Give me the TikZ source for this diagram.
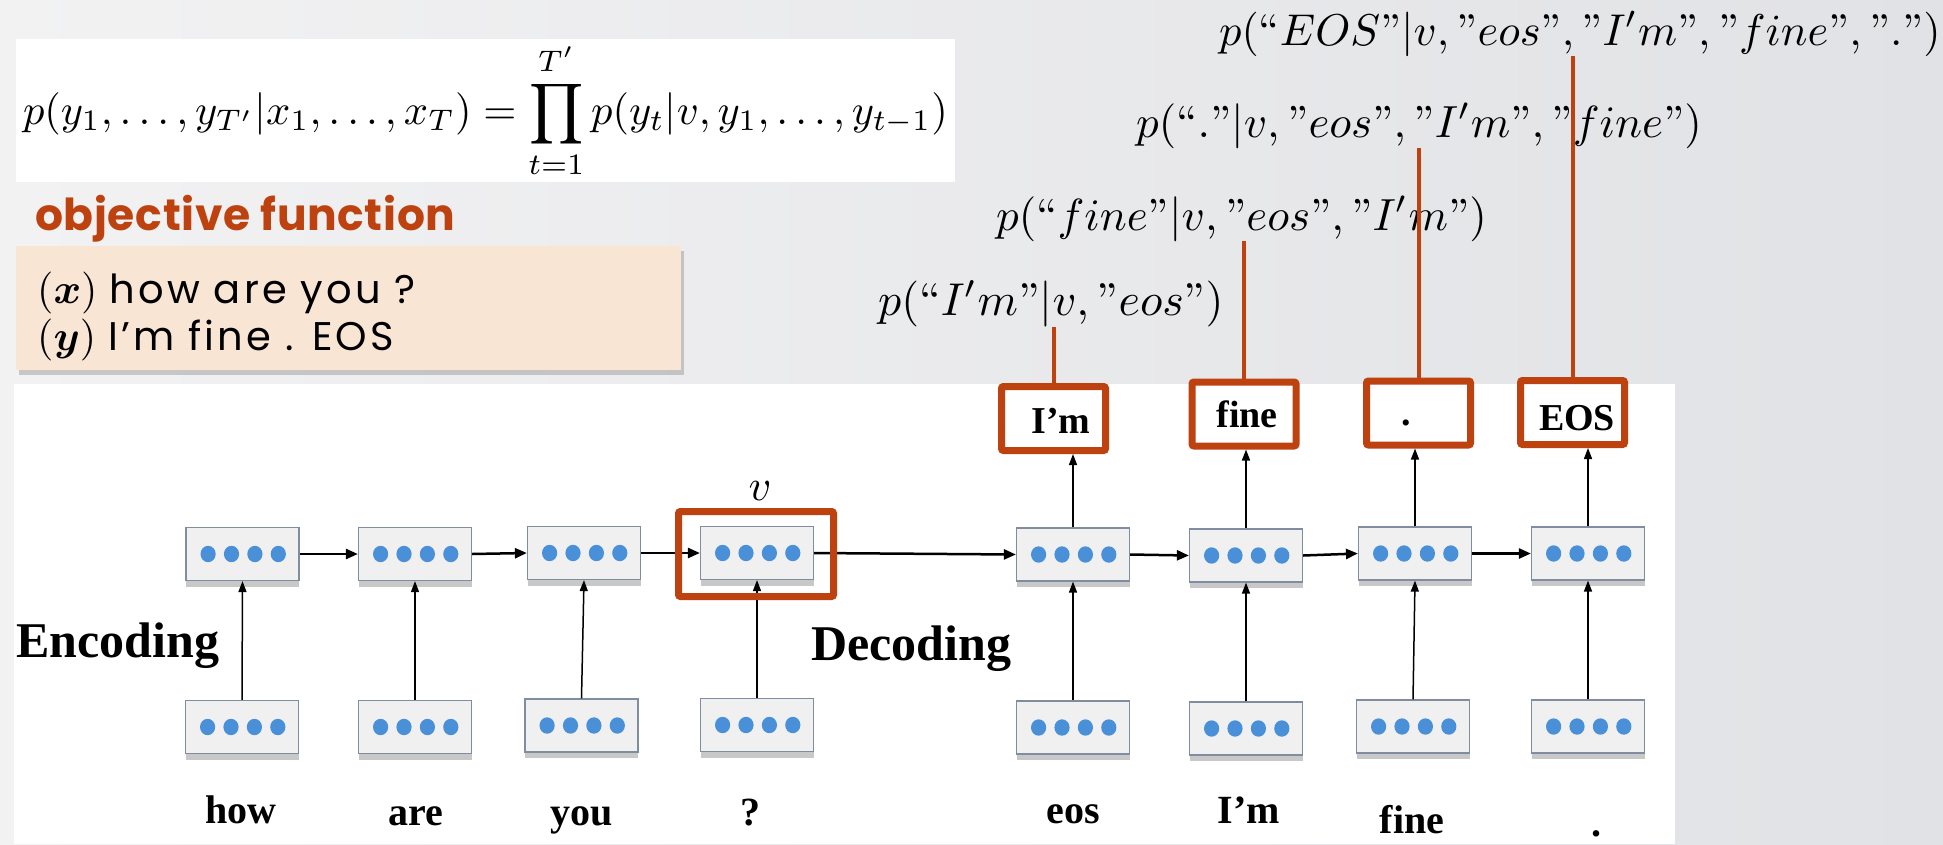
\documentclass[tikz,border=0pt]{standalone}
\usepackage{amsmath}
\usepackage{bm}
\usepackage{fontspec}
\newfontfamily\gothic{Poppins}[LetterSpace=1.5]
\newfontfamily\gothicw{Poppins}[LetterSpace=8]
\newfontfamily\serifb{Liberation Serif}
\usetikzlibrary{arrows.meta,shadows}
\definecolor{redb}{RGB}{190,66,16}
\definecolor{peach}{RGB}{249,229,211}
\definecolor{dotb}{RGB}{74,144,217}
\definecolor{boxf}{RGB}{240,240,240}
\definecolor{boxd}{RGB}{128,140,160}
\definecolor{bgL}{RGB}{242,242,243}
\definecolor{bgR}{RGB}{225,226,229}
\newcommand{\qa}[1]{\text{“}#1\text{”}}
\newcommand{\qb}[1]{\text{”}#1\text{”}}
\begin{document}
\begin{tikzpicture}[x=1pt,y=-1pt,
  cell/.style={draw=boxd,line width=1.2pt,fill=boxf,minimum width=113pt,minimum height=53pt,inner sep=0pt,
    drop shadow={shadow xshift=0pt,shadow yshift=-6pt,opacity=0.3,fill=black!70},
    path picture={\foreach \d in {-34.4,-11,12.4,35.8}{\fill[dotb] (path picture bounding box.center) ++(\d pt,0pt) ellipse [x radius=7.6pt,y radius=8.2pt];}}},
  obox/.style={draw=redb,line width=7pt,fill=white,minimum width=104pt,minimum height=64pt,inner sep=0pt,rounded corners=2pt},
  vbox/.style={draw=redb,line width=7pt,minimum width=155pt,minimum height=85pt,inner sep=0pt,rounded corners=2pt},
  btext/.style={anchor=base,inner sep=0pt,font=\serifb\bfseries\fontsize{38}{44}\selectfont},
  wtext/.style={anchor=base,inner sep=0pt,font=\serifb\bfseries\fontsize{40}{46}\selectfont},
  ptext/.style={anchor=base west,inner sep=0pt},
  extext/.style={anchor=base west,inner sep=0pt,font=\gothicw\fontsize{40}{46}\selectfont},
  varr/.style={-{Triangle[length=11pt,width=8pt]},line width=1.5pt},
  harr/.style={-{Triangle[length=12pt,width=10pt]},line width=2.5pt},
  rline/.style={draw=redb,line width=4pt}
]
\useasboundingbox (0,0) rectangle (1943,844);
\shade[left color=bgL,right color=bgR] (0,0) rectangle (1943,844);
\fill[white] (14,384) rectangle (1675,844);

% formula
\node[fill=white,minimum width=939pt,minimum height=143pt,inner sep=0pt] (formula) at (485.5,110.5)
  {\scalebox{4.25}{$\displaystyle p(y_1,\ldots,y_{T'}|x_1,\ldots,x_T)=\prod_{t=1}^{T'}p(y_t|v,y_1,\ldots,y_{t-1})$}};

% objective
\node[anchor=base west,inner sep=0pt,text=redb,font=\gothic\bfseries\fontsize{44}{48}\selectfont] (obj) at (35,230) {objective function};
\node[fill=peach,minimum width=665pt,minimum height=124pt,inner sep=0pt,
  drop shadow={shadow xshift=3pt,shadow yshift=-5pt,opacity=0.3,fill=black!60}] (ex) at (348.5,308) {};
\node[extext] (exx) at (37,303) {\scalebox{4.2}{\normalsize$(\bm{x})$}\hspace{12pt}how are you ?};
\node[extext] (exy) at (37,350) {\scalebox{4.2}{\normalsize$(\bm{y})$}\hspace{12pt}I’m fine . EOS};

% labels
\node[ptext] (l1) at (878,315) {\scalebox{4.6}{$p(\qa{I'm}|v,\qb{eos})$}};
\node[ptext] (l2) at (996,230) {\scalebox{4.5}{$p(\qa{fine}|v,\qb{eos},\qb{I'm})$}};
\node[ptext] (l3) at (1136,137) {\scalebox{4.5}{$p(\qa{.}|v,\qb{eos},\qb{I'm},\qb{fine})$}};
\node[ptext] (l4) at (1219,45) {\scalebox{4.45}{$p(\qa{EOS}|v,\qb{eos},\qb{I'm},\qb{fine},\qb{.})$}};

% cells
\node[cell] (h1) at (242.5,554) {};
\node[cell] (h2) at (415,554) {};
\node[cell] (h3) at (584,553) {};
\node[cell] (h4) at (757,553) {};
\node[cell] (h5) at (1073,554.5) {};
\node[cell] (h6) at (1246,555.5) {};
\node[cell] (h7) at (1415,553.5) {};
\node[cell] (h8) at (1588,553.5) {};
\node[cell] (x1) at (242,727) {};
\node[cell] (x2) at (415,727) {};
\node[cell] (x3) at (581.5,725.5) {};
\node[cell] (x4) at (757,725) {};
\node[cell] (d1) at (1073,727.5) {};
\node[cell] (d2) at (1246,728.5) {};
\node[cell] (d3) at (1413,726.5) {};
\node[cell] (d4) at (1588,726.5) {};

% output boxes
\node[obox] (o1) at (1053.5,418.5) {};
\node[obox] (o2) at (1244,414) {};
\node[obox] (o3) at (1418.5,413) {};
\node[obox] (o4) at (1572.5,412.5) {};
\node[btext] (t1) at (1061,433) {I’m};
\node[btext] (t2) at (1247,427) {fine};
\node[btext] (t3) at (1406,425) {.};
\node[btext] (t4) at (1577,430) {EOS};

% words
\node[wtext] (w1) at (241,823) {how};
\node[wtext] (w2) at (416,825) {are};
\node[wtext] (w3) at (582,825) {you};
\node[wtext] (w4) at (750,825) {?};
\node[wtext] (w5) at (1073,823) {eos};
\node[wtext] (w6) at (1249,823) {I’m};
\node[wtext] (w7) at (1412,833) {fine};
\node[wtext] (w8) at (1596,836) {.};

\node[anchor=base west,inner sep=0pt,font=\serifb\bfseries\fontsize{50}{56}\selectfont] (enc) at (16,657) {Encoding};
\node[anchor=base west,inner sep=0pt,font=\serifb\bfseries\fontsize{50}{56}\selectfont] (dec) at (811,660) {Decoding};
\node[anchor=base,inner sep=0pt] (vl) at (760,500) {\scalebox{4.4}{$v$}};

% connectors
\foreach \i/\j in {x1/h1,x2/h2,x3/h3,x4/h4,d1/h5,d2/h6,d3/h7,d4/h8}
  \draw[varr] (\i.north) -- (\j.south);
\foreach \i/\j in {h1/h2,h2/h3,h3/h4,h4/h5,h5/h6,h6/h7,h7/h8}
  \draw[harr] (\i.east) -- (\j.west);
\foreach \i/\j in {h5/o1,h6/o2,h7/o3,h8/o4}
  \draw[varr] (\i.north) -- (\i.north |- \j.south);
\foreach \j/\l in {o1/l1,o2/l2,o3/l3,o4/l4}
  \draw[rline] (\j.north) -- (\j.north |- \l.south);

\node[vbox] (vb) at (756,554) {};
\end{tikzpicture}
\end{document}
